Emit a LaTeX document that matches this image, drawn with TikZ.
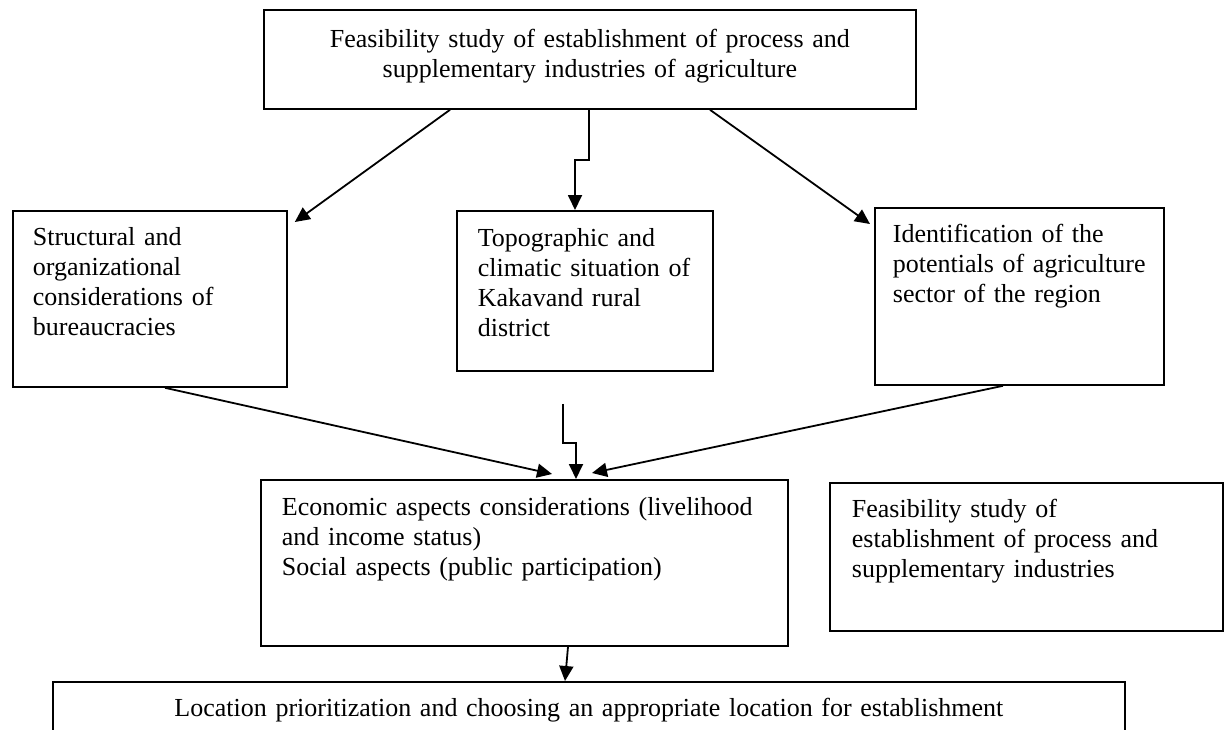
\documentclass[tikz,border=0pt]{standalone}
\usepackage{fontspec}
\setmainfont{Liberation Serif}
\usetikzlibrary{arrows.meta}

\begin{document}
\hyphenpenalty=10000
\begin{tikzpicture}[x=0.5pt, y=-0.5pt,
  box/.style={draw, line width=0.9pt, anchor=north west, inner ysep=0pt, align=left,
    font=\fontsize{13}{15}\selectfont},
  arr/.style={line width=0.9pt, -{Triangle[length=7.5pt, width=7pt]}}]
\clip (0,0) rectangle (1226,729);
\node[box, align=center, inner xsep=0pt, text width=326pt, text height=19pt, text depth=30.5pt] (feas) at (263,9)
  {Feasibility study of establishment of process and\\supplementary industries of agriculture};
\node[box, inner xsep=10pt, text width=117pt, text height=17.5pt, text depth=70.5pt] (struct) at (12,210)
  {Structural and\\organizational\\considerations of\\bureaucracies};
\node[box, inner xsep=10.5pt, text width=107pt, text height=18pt, text depth=62pt] (topo) at (456,210)
  {Topographic and\\climatic situation of\\Kakavand rural\\district};
\node[box, inner xsep=9pt, text width=126.5pt, text height=17.5pt, text depth=71pt] (ident) at (874,207)
  {Identification of the\\potentials of agriculture\\sector of the region};
\node[box, inner xsep=10.5pt, text width=242.5pt, text height=18pt, text depth=65pt] (econ) at (260,479)
  {Economic aspects considerations (livelihood\\and income status)\\Social aspects (public participation)};
\node[box, inner xsep=11pt, text width=174.5pt, text height=17.5pt, text depth=56.5pt] (feas2) at (829,482)
  {Feasibility study of\\establishment of process and\\supplementary industries};
\node[box, align=center, inner xsep=0pt, text width=536pt, text height=17.5pt, text depth=40pt] (loc) at (52,681)
  {Location prioritization and choosing an appropriate location for establishment};

\draw[arr] ([xshift=93.5pt]feas.south west) -- ([shift={(3.5pt,-6pt)}]struct.north east);
\draw[arr] ([xshift=163pt]feas.south west) -- ++(0,-25pt) -| ([xshift=59.5pt]topo.north west);
\draw[arr] ([xshift=223.5pt]feas.south west) -- ([shift={(-2pt,-8.5pt)}]ident.north west);
\draw[arr] ([xshift=76.5pt]struct.south west) -- ([shift={(146pt,2.5pt)}]econ.north west);
\draw[arr] ([shift={(53.5pt,-16pt)}]topo.south west) -- ++(0,-19.5pt) -| ([xshift=158pt]econ.north west);
\draw[arr] ([xshift=64.5pt]ident.south west) -- ([shift={(166pt,3pt)}]econ.north west);
\draw[arr] ([xshift=154pt]econ.south west) -- ([xshift=256.5pt]loc.north west);
\end{tikzpicture}
\end{document}
